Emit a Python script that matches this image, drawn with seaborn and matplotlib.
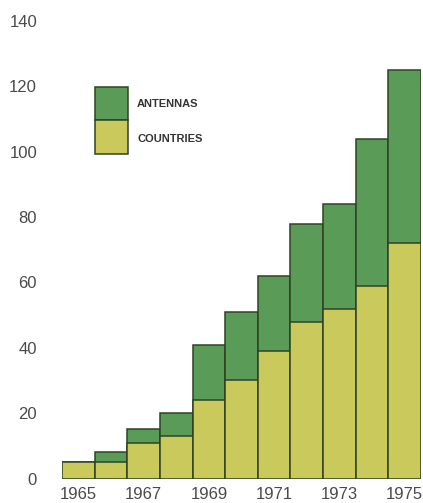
import matplotlib
matplotlib.use("Agg")
import matplotlib.pyplot as plt
from matplotlib.patches import Rectangle
import seaborn as sns
import pandas as pd

years = [1965, 1966, 1967, 1968, 1969, 1970, 1971, 1972, 1973, 1974, 1975]
antennas = [5, 8, 15, 20, 41, 51, 62, 78, 84, 104, 125]
countries = [5, 5, 11, 13, 24, 30, 39, 48, 52, 59, 72]
year_labels = ["1965", "", "1967", "", "1969", "", "1971", "", "1973", "", "1975"]
y_ticks = [0, 20, 40, 60, 80, 100, 120, 140]

green = "#5a9c57"
yellow = "#c9c95c"
edge = "#2f4224"
text_grey = "#4a4a4a"

sns.set_theme(style="white")
plt.rcParams["font.family"] = ["Liberation Sans", "DejaVu Sans"]

df = pd.DataFrame({"year": [str(y) for y in years],
                   "antennas": antennas, "countries": countries})

fig = plt.figure(figsize=(4.23, 5.03), dpi=100)
ax = fig.add_axes([0.1466, 0.0487, 0.8487, 0.9095])

sns.barplot(data=df, x="year", y="antennas", color=green, width=1.0,
            edgecolor=edge, linewidth=1.1, saturation=1, ax=ax)
sns.barplot(data=df, x="year", y="countries", color=yellow, width=1.0,
            edgecolor=edge, linewidth=1.1, saturation=1, ax=ax)

ax.set_xlim(-0.5, len(years) - 0.5)
ax.set_ylim(0, 140)
ax.set_yticks(y_ticks)
ax.set_yticklabels([str(t) for t in y_ticks], fontsize=12, color=text_grey)
ax.set_xticks(range(len(years)))
ax.set_xticklabels(year_labels, fontsize=12, color=text_grey)
ax.tick_params(axis="y", length=0, pad=18)
ax.tick_params(axis="x", length=0, pad=6)
ax.set_xlabel("")
ax.set_ylabel("")
for s in ax.spines.values():
    s.set_visible(False)

# legend: two stacked swatches with labels
ax.add_patch(Rectangle((0.092, 0.784), 0.092, 0.072, transform=ax.transAxes,
                       facecolor=green, edgecolor=edge, linewidth=1.1, clip_on=False))
ax.add_patch(Rectangle((0.092, 0.709), 0.092, 0.075, transform=ax.transAxes,
                       facecolor=yellow, edgecolor=edge, linewidth=1.1, clip_on=False))
ax.text(0.209, 0.819, "ANTENNAS", transform=ax.transAxes, fontsize=8,
        fontweight="bold", color="#333333", va="center", ha="left")
ax.text(0.209, 0.742, "COUNTRIES", transform=ax.transAxes, fontsize=8,
        fontweight="bold", color="#333333", va="center", ha="left")

fig.savefig("out.png", dpi=100)
